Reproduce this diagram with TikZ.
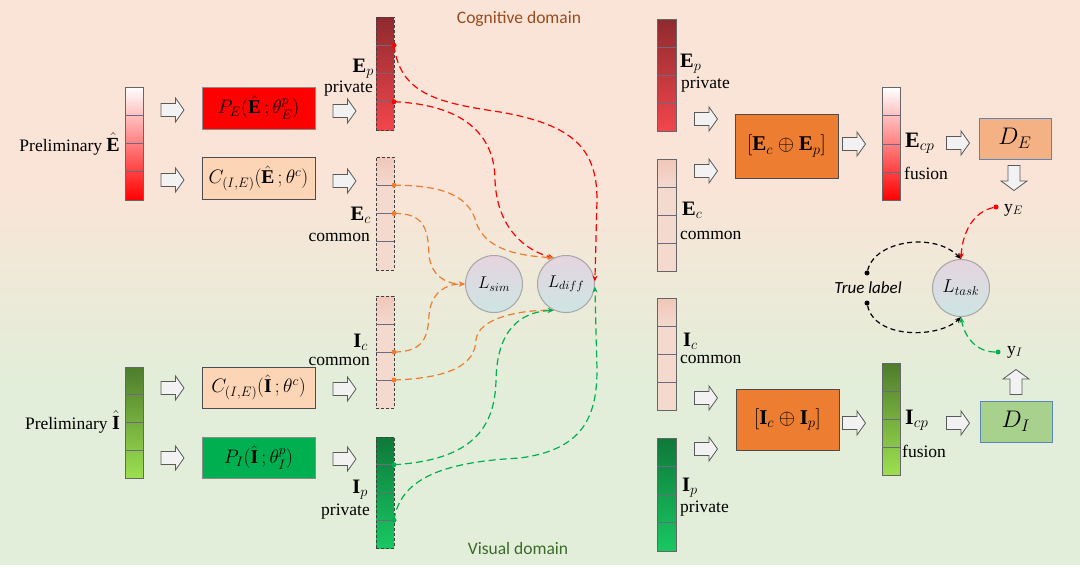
\RequirePackage{fix-cm}
\documentclass[tikz,border=0pt]{standalone}
\usepackage{amsmath}
\usepackage{fontspec}
\setmainfont{Liberation Serif}
\newfontfamily\sfc{Carlito}
\usetikzlibrary{calc,arrows.meta}
\definecolor{bgpeach}{HTML}{FAE4D7}
\definecolor{bggreen}{HTML}{E2EED9}
\definecolor{sepc}{HTML}{6A6A80}
\definecolor{epT}{HTML}{8E2A2E}
\definecolor{epB}{HTML}{F2464C}
\definecolor{ect}{HTML}{E9A48E}
\definecolor{ecb}{HTML}{F4D9CE}
\definecolor{ipT}{HTML}{0E783A}
\definecolor{ipB}{HTML}{19C862}
\definecolor{ihT}{HTML}{4E7C2C}
\definecolor{ihB}{HTML}{9CE050}
\definecolor{cbox}{HTML}{FBD5B5}
\definecolor{pgreen}{HTML}{00B050}
\definecolor{fuseor}{HTML}{ED7D31}
\definecolor{debox}{HTML}{F4B183}
\definecolor{dibox}{HTML}{A9D18E}
\definecolor{dborder}{HTML}{5B87B8}
\definecolor{orl}{HTML}{ED7D31}
\definecolor{grl}{HTML}{00B050}
\definecolor{redl}{HTML}{FF0000}
\definecolor{cogc}{HTML}{9B4A1C}
\definecolor{visc}{HTML}{3B6A2A}
\definecolor{circA}{HTML}{E6D4DF}
\definecolor{circB}{HTML}{CDE5E3}
\definecolor{arrf}{HTML}{F2F2F2}
\pgfdeclareverticalshading{bgsh}{100bp}{color(0bp)=(bggreen); color(41bp)=(bggreen); color(59bp)=(bgpeach); color(100bp)=(bgpeach)}
\pgfdeclareverticalshading{ecsh}{100bp}{color(0bp)=(ecb); color(62bp)=(ecb); color(100bp)=(ect)}
\tikzset{
  vec/.style={minimum width=18pt, minimum height=113pt, inner sep=0pt, outer sep=0pt},
  vsolid/.style={vec, draw=black!60, line width=0.9pt},
  vdash/.style={vec, draw=black!75, line width=0.9pt, dash pattern=on 3pt off 2pt},
  cellsep/.style={draw=sepc, line width=0.8pt},
  fbox/.style={draw=black!70, line width=0.9pt, minimum width=113pt, minimum height=42pt, inner sep=0pt, font=\fontsize{19.5}{22}\selectfont},
  lossc/.style={circle, draw=black!35, line width=1pt, minimum size=57pt, inner sep=0pt, top color=circA, bottom color=circB, font=\fontsize{17}{20}\selectfont},
  dl/.style={dash pattern=on 7pt off 4pt, line width=1.2pt},
  tip/.style={-{Stealth[length=6pt,width=5pt]}},
  dot/.style={circle, fill, inner sep=0pt, minimum size=5pt},
  lab/.style={font=\fontsize{17.5}{18}\selectfont, inner sep=0pt},
  blab/.style={font=\fontsize{20.5}{22}\selectfont, inner sep=0pt},
  barrowst/.style={fill=arrf, draw=black!65, line width=0.8pt},
  pics/rarr/.style={code={\draw[barrowst] (-11.5,-6.5) -- (3,-6.5) -- (3,-12) -- (11.5,0) -- (3,12) -- (3,6.5) -- (-11.5,6.5) -- cycle;}},
  pics/darr/.style={code={\draw[barrowst] (-6,-12.5) -- (-6,3) -- (-13,3) -- (0,12.5) -- (13,3) -- (6,3) -- (6,-12.5) -- cycle;}},
  pics/uarr/.style={code={\draw[barrowst] (-6,12.5) -- (-6,-3) -- (-13,-3) -- (0,-12.5) -- (13,-3) -- (6,-3) -- (6,12.5) -- cycle;}},
}
\newcommand\cellsof[1]{\foreach \f in {0.25,0.5,0.75}{\draw[cellsep] ($(#1.north west)!\f!(#1.south west)$) -- ($(#1.north east)!\f!(#1.south east)$);}}
\newcommand\cellsdash[1]{\foreach \f in {0.25,0.75}{\draw[cellsep] ($(#1.north west)!\f!(#1.south west)$) -- ($(#1.north east)!\f!(#1.south east)$);}
  \draw[cellsep, dash pattern=on 4pt off 2pt] ($(#1.north west)!0.5!(#1.south west)$) -- ($(#1.north east)!0.5!(#1.south east)$);}
\begin{document}
\begin{tikzpicture}[x=1pt, y=-1pt]
\useasboundingbox (0,0) rectangle (1080,570);
\fill[white] (0,0) rectangle (1080,570);
\shade[shading=bgsh] (0,0) rectangle (1080,564);

% domain titles
\node[text=cogc, font=\sfc\fontsize{17.5}{20}\selectfont] (cog) at (519,19) {Cognitive domain};
\node[text=visc, font=\sfc\fontsize{17.5}{20}\selectfont] (vis) at (518,548) {Visual domain};

% ---------- left inputs
\node[vsolid, top color=white, bottom color=red] (Eh) at (134,143.5) {};
\cellsof{Eh}
\node[vsolid, minimum height=111pt, top color=ihT, bottom color=ihB] (Ih) at (134,422.5) {};
\cellsof{Ih}
\node[lab, anchor=east] (EhL) at (120,144) {Preliminary \fontsize{20}{22}\selectfont$\hat{\mathbf{E}}$};
\node[lab, anchor=east] (IhL) at (120,422) {Preliminary \fontsize{20}{22}\selectfont$\hat{\mathbf{I}}$};

\pic at (172.5,110) {rarr};
\pic at (172.5,180) {rarr};
\pic at (172.5,388) {rarr};
\pic at (172.5,458) {rarr};

\node[fbox, fill=red, draw=black!45] (PE) at (258.5,108) {$P_E(\hat{\mathbf{E}}\,;\theta_E^{p})$};
\node[fbox, fill=cbox] (CE) at (258.5,178.5) {$C_{(I,E)}(\hat{\mathbf{E}}\,;\theta^{c})$};
\node[fbox, fill=cbox, minimum height=41pt] (CI) at (258.5,387.5) {$C_{(I,E)}(\hat{\mathbf{I}}\,;\theta^{c})$};
\node[fbox, fill=pgreen, draw=black!45, minimum height=41pt] (PI) at (258.5,457.5) {$P_I(\hat{\mathbf{I}}\,;\theta_I^{p})$};

\pic at (344.5,111) {rarr};
\pic at (344.5,181) {rarr};
\pic at (344.5,389) {rarr};
\pic at (344.5,459) {rarr};

% ---------- middle vectors
\node[vdash, top color=epT, bottom color=epB] (EpL) at (385,73.5) {};
\cellsdash{EpL}
\node[vdash, shade, shading=ecsh] (EcL) at (385,213.5) {};
\cellsof{EcL}
\node[vdash, shade, shading=ecsh, minimum height=112pt] (IcL) at (385,352) {};
\cellsof{IcL}
\node[vdash, top color=ipT, bottom color=ipB, minimum height=111pt] (IpL) at (385,492.5) {};
\cellsdash{IpL}

\node[blab, anchor=east] (EpLt) at (374,69) {$\mathbf{E}_p$};
\node[lab, anchor=east] (EpLs) at (373,89) {private};
\node[blab, anchor=east] (EcLt) at (371,215) {$\mathbf{E}_c$};
\node[lab, anchor=east] (EcLs) at (370,237) {common};
\node[blab, anchor=east] (IcLt) at (368,342) {$\mathbf{I}_c$};
\node[lab, anchor=east] (IcLs) at (370,361) {common};
\node[blab, anchor=east] (IpLt) at (368,490) {$\mathbf{I}_p$};
\node[lab, anchor=east] (IpLs) at (370,512) {private};

% loss circles
\node[lossc] (Lsim) at (494,284) {$L_{sim}$};
\node[lossc] (Ldiff) at (566,284) {$L_{diff}$};

% dots
\coordinate (ep1) at ($(EpL.north east)!0.25!(EpL.south east)$);
\coordinate (ep3) at ($(EpL.north east)!0.75!(EpL.south east)$);
\coordinate (ec1) at ($(EcL.north east)!0.25!(EcL.south east)$);
\coordinate (ec2) at ($(EcL.north east)!0.5!(EcL.south east)$);
\coordinate (ic2) at ($(IcL.north east)!0.5!(IcL.south east)$);
\coordinate (ic3) at ($(IcL.north east)!0.75!(IcL.south east)$);
\coordinate (ip1) at ($(IpL.north east)!0.25!(IpL.south east)$);
\coordinate (ip3) at ($(IpL.north east)!0.75!(IpL.south east)$);

\draw[dl, redl, tip] (ep1) .. controls (400,95) and (440,103) .. (500,112) .. controls (575,125) and (597,150) .. (597,200) -- (Ldiff.5);
\draw[dl, redl, tip] (ep3) .. controls (470,105) and (495,140) .. (495,180) .. controls (497,232) and (530,252) .. (Ldiff.115);
\draw[dl, orl, tip] (ec1) .. controls (450,185) and (470,200) .. (476,222) .. controls (485,250) and (520,256) .. (Ldiff.115);
\draw[dl, orl, tip] (ec2) .. controls (425,213) and (428,230) .. (429,255) .. controls (431,275) and (445,284) .. (Lsim.west);
\draw[dl, orl, tip] (ic2) .. controls (425,352) and (428,335) .. (429,315) .. controls (431,293) and (445,284) .. (Lsim.west);
\draw[dl, orl, tip] (ic3) .. controls (450,378) and (475,365) .. (476,340) .. controls (478,318) and (520,310) .. (Ldiff.-115);
\draw[dl, grl, tip] (ip1) .. controls (470,460) and (495,430) .. (496,380) .. controls (497,330) and (520,312) .. (Ldiff.-115);
\draw[dl, grl, tip] (ip3) .. controls (400,480) and (440,462) .. (520,458) .. controls (580,450) and (597,420) .. (597,370) -- (Ldiff.-5);

\foreach \c/\col in {ep1/redl,ep3/redl,ec1/orl,ec2/orl,ic2/orl,ic3/orl,ip1/grl,ip3/grl}{\node[dot, fill=\col] at (\c) {};}

% ---------- right side
\node[vsolid, top color=epT, bottom color=epB, minimum width=19pt, minimum height=112pt] (EpR) at (666.5,75) {};
\cellsof{EpR}
\node[vsolid, shade, shading=ecsh, minimum width=19pt, minimum height=112pt] (EcR) at (666.5,215) {};
\cellsof{EcR}
\node[vsolid, shade, shading=ecsh, minimum width=19pt, minimum height=112pt] (IcR) at (666.5,354) {};
\cellsof{IcR}
\node[vsolid, top color=ipT, bottom color=ipB, minimum width=19pt, minimum height=113pt] (IpR) at (666.5,494.5) {};
\cellsof{IpR}

\node[blab, anchor=west] (EpRt) at (680,64) {$\mathbf{E}_p$};
\node[lab, anchor=west] (EpRs) at (681,85) {private};
\node[blab, anchor=west] (EcRt) at (682,210) {$\mathbf{E}_c$};
\node[lab, anchor=west] (EcRs) at (680,235) {common};
\node[blab, anchor=west] (IcRt) at (683,341) {$\mathbf{I}_c$};
\node[lab, anchor=west] (IcRs) at (680,359) {common};
\node[blab, anchor=west] (IpRt) at (682,488) {$\mathbf{I}_p$};
\node[lab, anchor=west] (IpRs) at (680,509) {private};

\pic at (706,119) {rarr};
\pic at (706,171) {rarr};
\pic at (706,398) {rarr};
\pic at (706,449) {rarr};

\node[fbox, fill=fuseor, minimum width=103pt, minimum height=64pt, font=\fontsize{21}{24}\selectfont] (FE) at (786.5,146) {$[\mathbf{E}_c\oplus\mathbf{E}_p]$};
\node[fbox, fill=fuseor, minimum width=103pt, minimum height=61pt, font=\fontsize{21}{24}\selectfont] (FI) at (787.5,419.5) {$[\mathbf{I}_c\oplus\mathbf{I}_p]$};

\pic at (854,144) {rarr};
\pic at (854,423) {rarr};

\node[vsolid, top color=white, bottom color=red] (Ecp) at (891,144) {};
\cellsof{Ecp}
\node[vsolid, top color=ihT, bottom color=ihB, minimum height=112pt] (Icp) at (891,419) {};
\cellsof{Icp}
\node[font=\fontsize{22}{24}\selectfont, inner sep=0pt, anchor=west] (EcpT) at (905,143) {$\mathbf{E}_{cp}$};
\node[lab, anchor=west] (EcpS) at (904,173) {fusion};
\node[font=\fontsize{22}{24}\selectfont, inner sep=0pt, anchor=west] (IcpT) at (905,420) {$\mathbf{I}_{cp}$};
\node[lab, anchor=west] (IcpS) at (902,451) {fusion};

\pic at (958,143) {rarr};
\pic at (958,423) {rarr};

\node[fbox, fill=debox, draw=dborder, minimum width=72pt, minimum height=41pt, font=\fontsize{24}{26}\selectfont] (DE) at (1015,138.5) {$D_E$};
\node[fbox, fill=dibox, draw=dborder, minimum width=72pt, minimum height=41pt, font=\fontsize{24}{26}\selectfont] (DI) at (1016,421.5) {$D_I$};

\pic at (1014,178) {darr};
\pic at (1016,382) {uarr};

\node[lossc, font=\fontsize{18.5}{20}\selectfont] (Ltask) at (961,288) {$L_{task}$};
\node[lab, anchor=west] (yE) at (1004,210) {$\mathrm{y}_E$};
\node[lab, anchor=west] (yI) at (1007,352) {$\mathrm{y}_I$};
\node[dot, fill=redl] (yEd) at (996,207) {};
\node[dot, fill=grl] (yId) at (998,352) {};
\node[font=\sfc\itshape\fontsize{17}{20}\selectfont, inner sep=0pt] (TL) at (868,288) {True label};
\node[dot, fill=black, minimum size=5pt] (tl1) at (867,273) {};
\node[dot, fill=black, minimum size=5pt] (tl2) at (867,303) {};

\draw[dash pattern=on 5pt off 3.5pt, line width=1.2pt, black, tip] (tl1) .. controls (875,240) and (935,232) .. (Ltask.north);
\draw[dash pattern=on 5pt off 3.5pt, line width=1.2pt, black, tip] (tl2) .. controls (875,340) and (940,338) .. (Ltask.south);
\draw[dl, redl, tip] (yEd) .. controls (972,212) and (962,235) .. (Ltask.north);
\draw[dl, grl, tip] (yId) .. controls (975,352) and (964,335) .. (Ltask.south);
\end{tikzpicture}
\end{document}
